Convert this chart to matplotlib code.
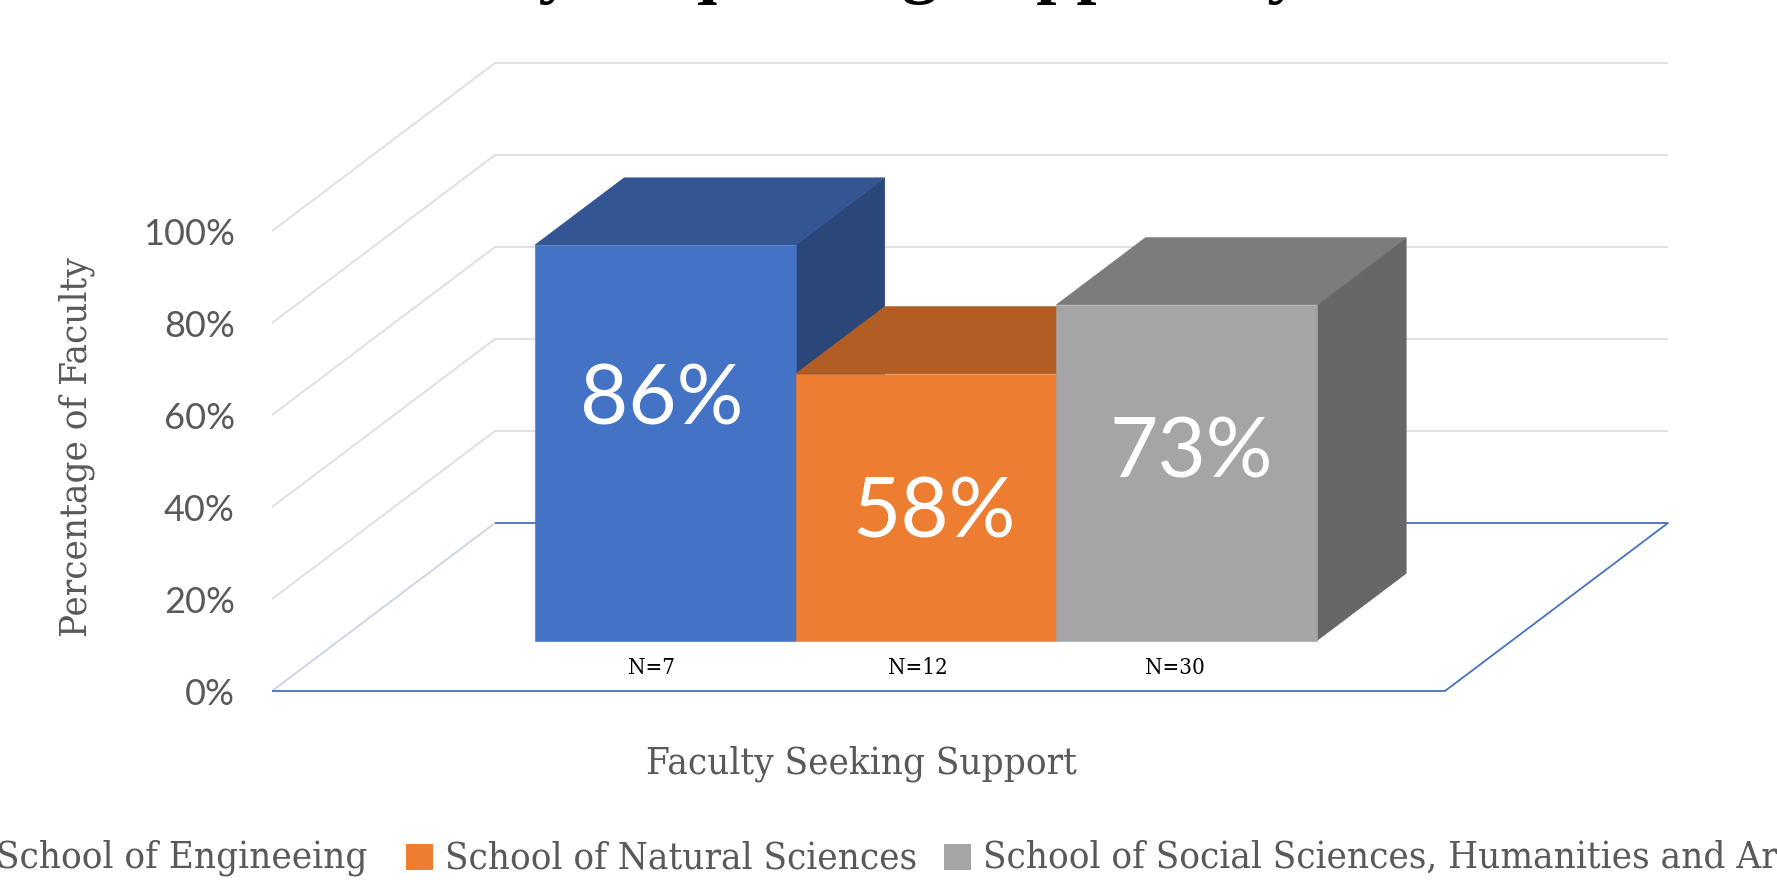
import matplotlib
matplotlib.use("Agg")
import matplotlib.pyplot as plt
from matplotlib.patches import Polygon, Rectangle

# Chart content
series_names = ["School of Engineeing", "School of Natural Sciences",
                "School of Social Sciences, Humanities and Arts"]
values = [86, 58, 73]
sample_labels = ["N=7", "N=12", "N=30"]
y_ticks = [0, 20, 40, 60, 80, 100]
title = "Faculty Requesting Support by School"
x_title = "Faculty Seeking Support"
y_title = "Percentage of Faculty"

front_colors = ["#4472C4", "#ED7D31", "#A5A5A5"]
top_colors = ["#335593", "#B15D23", "#7C7C7C"]
side_colors = ["#2B477A", "#8E4B1C", "#676767"]

# Small horizontal nudges of the text inside each bar, in pixels
value_label_shift = [-4, 8, 5]
sample_label_shift = [-14, -8, -12]

W, H = 1777, 880
DPI = 100
PX_PER_PCT = 4.6
BAR_W_PX = 260.7
X0_PX, Y0_PX = 272, 691          # front-left corner of the floor
DEPTH_X, DEPTH_Y = 223 / BAR_W_PX, 168 / PX_PER_PCT  # full-depth shear
FLOOR_W = 1173 / BAR_W_PX
BAR_START = 196 / BAR_W_PX
BAR_D0, BAR_D1 = 0.30, 0.70      # depth range occupied by the bars

GRID = "#DEDEDE"
TEXT = "#595959"
FLOOR = "#4472C4"
SLAB = "DejaVu Serif"
AXIS_TEXT_SIZE = 27.5

fig = plt.figure(figsize=(W / DPI, H / DPI), dpi=DPI, facecolor="white")
ax = fig.add_axes([0, 0, 1, 1])
ax.set_xlim(-X0_PX / BAR_W_PX, (W - X0_PX) / BAR_W_PX)
ax.set_ylim(-(H - Y0_PX) / PX_PER_PCT, Y0_PX / PX_PER_PCT)
ax.axis("off")


def project(x, value, depth):
    """Oblique projection of (x, value, depth) onto the plane of the axes."""
    return x + depth * DEPTH_X, value + depth * DEPTH_Y


def line3(points, **kw):
    xs, ys = zip(*[project(*p) for p in points])
    ax.plot(xs, ys, solid_capstyle="butt", **kw)


# Wall gridlines
for v in y_ticks[1:]:
    line3([(0, v, 0), (0, v, 1), (FLOOR_W, v, 1)], color=GRID, lw=1.3, zorder=1)
line3([(0, 0, 0), (0, 0, 1)], color="#CBD3E3", lw=1.3, zorder=1)

# Floor outline
line3([(0, 0, 1), (FLOOR_W, 0, 1), (FLOOR_W, 0, 0), (0, 0, 0)], color=FLOOR, lw=1.3, zorder=1)

# Bars, painted left to right so each covers its neighbour's hidden faces
for i, v in enumerate(values):
    x0 = BAR_START + i
    x1 = x0 + 1
    z = 2 + i
    side = [(x1, 0, BAR_D0), (x1, 0, BAR_D1), (x1, v, BAR_D1), (x1, v, BAR_D0)]
    top = [(x0, v, BAR_D0), (x1, v, BAR_D0), (x1, v, BAR_D1), (x0, v, BAR_D1)]
    front = [(x0, 0, BAR_D0), (x1, 0, BAR_D0), (x1, v, BAR_D0), (x0, v, BAR_D0)]
    for face, col in ((side, side_colors[i]), (top, top_colors[i]), (front, front_colors[i])):
        ax.add_patch(Polygon([project(*p) for p in face], closed=True, facecolor=col,
                             edgecolor=col, lw=0.4, zorder=z))
    cx, cy = project(x0 + 0.5, 0, BAR_D0)
    ax.text(cx + value_label_shift[i] / BAR_W_PX, cy + v * 0.876 - 23.4, f"{v}%", color="white",
            family="Lato", fontsize=60, ha="center", va="center", zorder=10)
    ax.text(cx + sample_label_shift[i] / BAR_W_PX, cy - 27 / PX_PER_PCT, sample_labels[i],
            color="black", family=SLAB, stretch="condensed", fontsize=16,
            ha="center", va="center", zorder=10)

# Value axis labels
for v in y_ticks:
    ax.text(-37 / BAR_W_PX, v - 3.4 / PX_PER_PCT, f"{v}%", color=TEXT, family="Lato", fontsize=26,
            ha="right", va="center")


def px(x, y):
    return (x - X0_PX) / BAR_W_PX, (Y0_PX - y) / PX_PER_PCT


ax.text(*px(861, 764), x_title, color=TEXT, family=SLAB, stretch="condensed",
        fontsize=AXIS_TEXT_SIZE, ha="center", va="center")
ax.text(*px(77, 447), y_title, color=TEXT, family=SLAB, stretch="condensed",
        fontsize=AXIS_TEXT_SIZE, rotation=90, ha="center", va="center")

# Title, running off the top of the canvas
ax.text(*px(934, -10), title, color="black", family="Liberation Serif", weight="bold",
        fontsize=52, ha="center", va="baseline")

# Legend row, running off both sides of the canvas
LEG_Y = 858
for name, col, sq_x, txt_x in zip(series_names, front_colors, (-60, 406, 944), (-4, 445, 983)):
    x, y = px(sq_x, 857 + 13)
    ax.add_patch(Rectangle((x, y), 27 / BAR_W_PX, 26 / PX_PER_PCT, facecolor=col, edgecolor="none"))
    ax.text(*px(txt_x, LEG_Y), name, color=TEXT, family=SLAB, stretch="condensed",
            fontsize=AXIS_TEXT_SIZE, ha="left", va="center")

fig.savefig("out.png", dpi=DPI, facecolor="white")
